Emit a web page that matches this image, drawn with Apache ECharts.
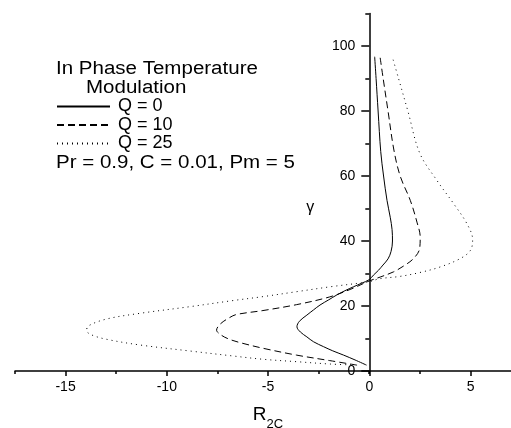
<!DOCTYPE html>
<html>
<head>
<meta charset="utf-8">
<script src="https://cdn.jsdelivr.net/npm/echarts@6/dist/echarts.min.js"></script>
<style>
html,body{margin:0;padding:0;background:#fff;}
#chart{width:511px;height:428px;}
</style>
</head>
<body>
<div id="chart"></div>
<script>
// Series names (legend)
const seriesNames = ['Q = 0', 'Q = 10', 'Q = 25'];
// Annotation texts
const titleLine1 = 'In Phase Temperature';
const titleLine2 = 'Modulation';
const paramText = 'Pr = 0.9, C = 0.01, Pm = 5';
// Axis tick label values
const xTickLabels = [-15, -10, -5, 0, 5];
const yTickLabels = [0, 20, 40, 60, 80, 100];

// Data: [R2C, gamma]
const q0 = [[-0.13,1.8],[-0.7,3.4],[-1.27,4.9],[-1.8,6.2],[-2.26,7.5],[-2.75,9.0],[-3.08,10.5],[-3.4,12.0],[-3.57,13.6],[-3.45,15.3],[-3.08,17.2],[-2.75,18.8],[-2.43,20.3],[-2.0,21.9],[-1.6,23.4],[-1.2,24.7],[-0.78,25.9],[-0.38,27.0],[0,28.1],[0.21,29.5],[0.46,31.0],[0.68,32.6],[0.93,34.5],[1.08,36.8],[1.15,40.0],[1.13,43.5],[1.04,47.3],[0.88,52.5],[0.71,60.0],[0.57,67.5],[0.44,80.0],[0.34,90.0],[0.27,96.7]];
const q10 = [[-0.6,1.8],[-1.95,3.2],[-3.6,4.9],[-5.25,7.0],[-6.3,8.6],[-6.88,9.7],[-7.3,11.0],[-7.54,12.6],[-7.35,14.5],[-6.88,16.5],[-6.55,17.4],[-5.25,18.6],[-3.6,20.4],[-1.95,22.8],[-0.9,25.2],[0,27.7],[0.54,28.9],[1.2,30.5],[1.7,32.3],[2.19,34.6],[2.49,37.6],[2.52,41.2],[2.36,45.8],[2.03,52.5],[1.53,60.0],[1.22,68.0],[0.93,80.0],[0.69,90.0],[0.53,96.9]];
const q25 = [[-0.9,1.9],[-1.95,2.15],[-3.59,2.87],[-5.23,3.6],[-6.7,4.6],[-8.85,6.15],[-11.32,8.0],[-12.97,9.75],[-13.71,11.1],[-13.96,12.4],[-13.88,13.85],[-12.97,16.0],[-11.32,17.75],[-8.85,19.8],[-6.7,21.7],[-5.23,22.9],[-3.59,24.4],[-1.94,25.9],[0,27.5],[0.52,28.4],[1.51,29.1],[2.5,30.3],[3.5,32.0],[4.5,34.6],[5.0,37.1],[5.11,40.4],[4.83,45.3],[4.17,51.5],[3.35,58.6],[2.5,67.0],[1.91,80.0],[1.45,90.0],[1.14,96.7]];

const FONT = '"Liberation Sans", Arial, Helvetica, sans-serif';
const chart = echarts.init(document.getElementById('chart'), null, {renderer: 'canvas'});

const lineStyles = [
  {color: '#000', width: 1, type: 'solid'},
  {color: '#000', width: 1, type: [7, 4]},
  {color: '#000', width: 1, type: [1, 4]}
];
const seriesData = [q0, q10, q25];

// grid boxes; the gamma axis stands at R = 0
const G0 = {left: 15, right: -10, top: 13.5, bottom: 57};
const G1 = {left: -35.7, right: -60.8, top: -19, bottom: 57};
const zeroPx = 369.3;

const option = {
  animation: false,
  backgroundColor: '#fff',
  grid: [
    Object.assign({containLabel: false, outerBoundsMode: 'none'}, G0),
    Object.assign({containLabel: false, outerBoundsMode: 'none'}, G1)
  ],
  xAxis: [
    {
      type: 'value', gridIndex: 0, min: -17.5, max: 7.5, interval: 2.5,
      axisLine: {show: true, onZero: false, lineStyle: {color: '#000', width: 1.5}},
      axisTick: {show: true, length: 3, lineStyle: {color: '#000', width: 1.5}},
      axisLabel: {show: false},
      splitLine: {show: false},
      name: '{r|R}{s|2C}', nameLocation: 'middle', nameGap: 27,
      nameTextStyle: {
        rich: {
          r: {fontFamily: FONT, fontSize: 19, color: '#000'},
          s: {fontFamily: FONT, fontSize: 13, color: '#000', padding: [20, 0, 0, 0]}
        }
      }
    },
    {
      type: 'value', gridIndex: 1, min: -20, max: 10, interval: 5,
      axisLine: {show: true, onZero: false, lineStyle: {color: 'rgba(0,0,0,0)', width: 0}},
      axisTick: {show: true, length: 5, lineStyle: {color: '#000', width: 1.5}},
      axisLabel: {
        show: true, margin: 9, color: '#000', fontFamily: FONT, fontSize: 14,
        formatter: v => xTickLabels.indexOf(v) >= 0 ? String(v) : ''
      },
      splitLine: {show: false}
    }
  ],
  yAxis: [
    {
      type: 'value', gridIndex: 0, min: 0, max: 110, interval: 10,
      position: 'left', offset: -(zeroPx - G0.left),
      axisLine: {show: true, onZero: false, lineStyle: {color: '#000', width: 1.5}},
      axisTick: {show: true, length: 4, lineStyle: {color: '#000', width: 1.5}},
      axisLabel: {show: false},
      splitLine: {show: false},
      name: '{g|γ}', nameLocation: 'middle', nameRotate: 0, nameGap: 55,
      nameTextStyle: {
        rich: {g: {fontFamily: FONT, fontSize: 16, color: '#000', padding: [30, 0, 0, 0]}}
      }
    },
    {
      type: 'value', gridIndex: 1, min: 0, max: 120, interval: 20,
      position: 'left', offset: -(zeroPx - G1.left),
      axisLine: {show: true, onZero: false, lineStyle: {color: 'rgba(0,0,0,0)', width: 0}},
      axisTick: {show: true, length: 8, lineStyle: {color: '#000', width: 1.5}},
      axisLabel: {
        show: true, margin: 14, color: '#000', fontFamily: FONT, fontSize: 14,
        formatter: v => yTickLabels.indexOf(v) >= 0 ? String(v) : ''
      },
      splitLine: {show: false}
    }
  ],
  legend: {
    orient: 'vertical', left: 56, top: 97.5, padding: 0,
    itemWidth: 53, itemHeight: 18, itemGap: 0.5,
    itemStyle: {opacity: 0},
    textStyle: {fontFamily: FONT, fontSize: 18, color: '#000', padding: [0, 0, 0, 3]},
    data: seriesNames
  },
  graphic: [
    {type: 'text', x: 56, y: 69, scaleX: 1.14, style: {text: titleLine1, fontFamily: FONT, fontSize: 18, fill: '#000', align: 'left', verticalAlign: 'middle'}},
    {type: 'text', x: 86, y: 88, scaleX: 1.14, style: {text: titleLine2, fontFamily: FONT, fontSize: 18, fill: '#000', align: 'left', verticalAlign: 'middle'}},
    {type: 'text', x: 56, y: 163, scaleX: 1.14, style: {text: paramText, fontFamily: FONT, fontSize: 18, fill: '#000', align: 'left', verticalAlign: 'middle'}}
  ],
  series: seriesNames.map((name, i) => ({
    name: name,
    type: 'line',
    xAxisIndex: 0, yAxisIndex: 0,
    data: seriesData[i],
    symbol: 'none',
    smooth: 0.35,
    lineStyle: lineStyles[i],
    itemStyle: {color: '#000'},
    clip: false
  }))
};
chart.setOption(option);
</script>
</body>
</html>
